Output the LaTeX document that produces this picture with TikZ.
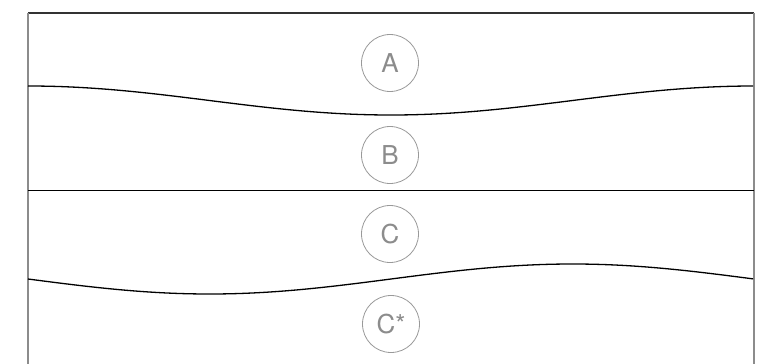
\documentclass[tikz,border=0pt]{standalone}
\usepackage{fontspec}
\setmainfont{TeX Gyre Heros}
\begin{document}
\begin{tikzpicture}[x=1pt,y=-1pt,
  lbl/.style={circle, draw=black!40, line width=0.8pt, minimum size=57pt, inner sep=0pt, text=black!45, font=\fontsize{26}{28}\selectfont},
  sep/.style={line width=1.3pt, black},
  edge/.style={line width=1.6pt, black!45}]
\useasboundingbox (0,0) rectangle (763,364);
\fill[white] (0,0) rectangle (763,364);
% frame
\draw[line width=1.2pt, black!80] (28,13) -- (754,13);
\draw[edge] (28,13) -- (28,364);
\draw[edge] (754,13) -- (754,364);
% separators
\draw[sep] plot[domain=0:1, samples=120, smooth] ({28+726*\x}, {100.5-14.5*cos(360*\x)});
\draw[sep] (28,190.5) -- (754,190.5);
\draw[sep] plot[domain=0:1, samples=120, smooth] ({28+726*\x}, {279+15*sin(360*\x)});
% labels
\node[lbl] (a) at (390,63) {A};
\node[lbl] (b) at (390,155) {B};
\node[lbl] (c) at (390,234) {C};
\node[lbl] (cs) at (391,324) {C*};
\end{tikzpicture}
\end{document}
